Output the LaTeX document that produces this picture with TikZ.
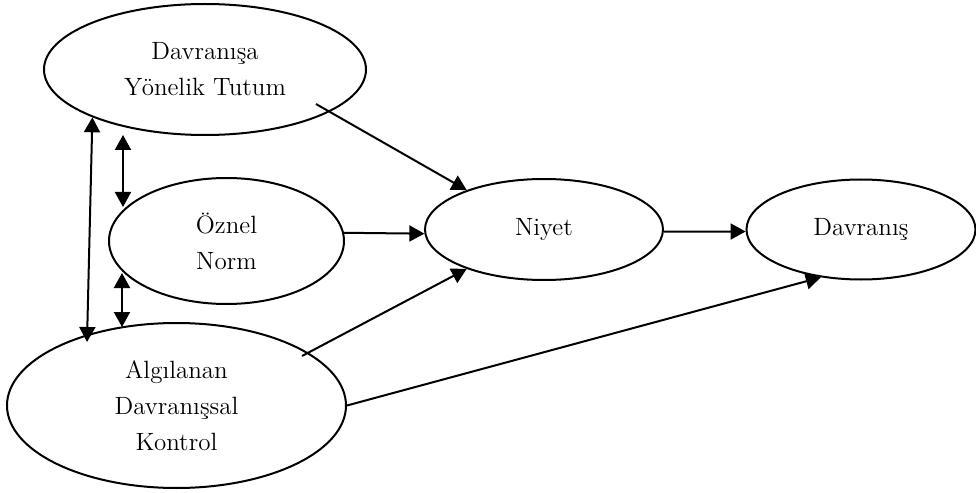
\documentclass[tikz,border=0pt]{standalone}
\usepackage{tikz}
\usetikzlibrary{shapes, arrows.meta, positioning}
\tikzset{
    ovalnode/.style = {draw, ellipse, line width=1pt, inner sep=0pt, node distance=0em,
      align=center, font=\fontsize{12.5}{18}\selectfont},
    connect/.style = {black, line width=1pt, -{Triangle[length=7.5pt, width=8pt]}},
    bothconnect/.style = {black, line width=1pt,
      {Triangle[length=7.5pt, width=8pt]}-{Triangle[length=7.5pt, width=8pt]}}
}
\begin{document}
\begin{tikzpicture}
    \useasboundingbox (-272pt,114.75pt) rectangle (216pt,-131.75pt);
    \node [name=niyet, ovalnode, minimum width=119pt, minimum height=50.5pt] at (0,0) {Niyet};
    \node [name=davranis, ovalnode, right of = niyet, xshift=158.5pt, minimum width=114.5pt, minimum height=50pt] {Davranış};

    \node [name=tutum, ovalnode, left of = niyet, xshift=-169.5pt, yshift=80pt, minimum width=161pt, minimum height=65.5pt] {Davranışa\\Yönelik Tutum};
    \node [name=norm, ovalnode, left of = niyet, xshift=-158.75pt, yshift=-5.75pt, minimum width=117.5pt, minimum height=63pt] {Öznel\\Norm};
    \node [name=kontrol, ovalnode, left of = niyet, xshift=-183.75pt, yshift=-88pt, minimum width=169.5pt, minimum height=82.5pt] {Algılanan\\Davranışsal\\Kontrol};

    \draw ([shift={(55.5pt,-17.25pt)}]tutum.center) edge[connect] (niyet.153);
    \draw (norm.4) edge[connect] (niyet.182);
    \draw ([shift={(62.75pt,24.75pt)}]kontrol.center) edge[connect] (niyet.207);
    \draw (niyet.-1) edge[connect] (davranis.181);
    \draw (kontrol.east) edge[connect] (davranis.230);

    \draw (tutum.203) edge[bothconnect] ([shift={(-44.75pt,31.75pt)}]kontrol.center);
    \draw ([shift={(-41pt,-32.75pt)}]tutum.center) edge[bothconnect] ([shift={(-51.75pt,17pt)}]norm.center);
    \draw ([shift={(-52.25pt,-16pt)}]norm.center) edge[bothconnect] ([shift={(-27.25pt,39.25pt)}]kontrol.center);
\end{tikzpicture}
\end{document}
